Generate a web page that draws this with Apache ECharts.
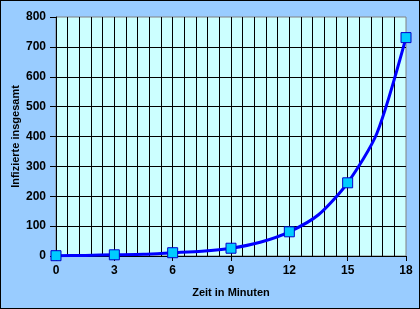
<!DOCTYPE html>
<html>
<head>
<meta charset="utf-8">
<script src="https://cdn.jsdelivr.net/npm/echarts@6/dist/echarts.min.js"></script>
<style>
html,body{margin:0;padding:0;background:#99CCFF;}
#c{width:420px;height:309px;box-sizing:border-box;border:1px solid #000;}
</style>
</head>
<body>
<div id="c"></div>
<script>
// Data
var minutes = [0, 1.5, 3, 4.5, 6, 7.5, 9, 10.5, 12, 13.5, 15, 16.5, 18];
var infected = [1, 2, 4, 6, 11, 16, 26, 46, 81, 138, 245, 410, 731];
var markerMinutes = [0, 3, 6, 9, 12, 15, 18];
var xTickLabels = ['0', '3', '6', '9', '12', '15', '18'];
var yTickLabels = ['0', '100', '200', '300', '400', '500', '600', '700', '800'];

var lineData = minutes.map(function (t, i) { return [t, infected[i]]; });
var markerData = lineData.filter(function (p) { return markerMinutes.indexOf(p[0]) >= 0; });

var font = 'Arial, "Liberation Sans", sans-serif';
var chart = echarts.init(document.getElementById('c'), null, {renderer: 'canvas'});
chart.setOption({
  backgroundColor: '#99CCFF',
  animation: false,
  grid: {left: 55, right: 13, top: 16, bottom: 52, containLabel: false, outerBoundsMode: 'none',
    show: true, backgroundColor: '#CCFFFF', borderColor: '#808080', borderWidth: 1},
  xAxis: [{
    type: 'value', min: 0, max: 18, interval: 0.6,
    axisLine: {show: false}, axisTick: {show: false}, axisLabel: {show: false},
    splitLine: {show: true, showMaxLine: false, showMinLine: false, lineStyle: {color: '#000', width: 1}}
  }, {
    type: 'value', min: 0, max: 18, interval: 3, position: 'bottom',
    name: 'Zeit in Minuten', nameLocation: 'middle', nameGap: 31, nameMoveOverlap: false,
    nameTextStyle: {fontFamily: font, fontWeight: 'bold', fontSize: 11, color: '#000'},
    axisLine: {show: true, lineStyle: {color: '#000', width: 1}},
    axisTick: {show: true, length: 5, lineStyle: {color: '#000'}},
    axisLabel: {margin: 9, fontFamily: font, fontWeight: 'bold', fontSize: 12, color: '#000',
      formatter: function (v) { var i = Math.round(v / 3); return xTickLabels[i] || ''; }},
    splitLine: {show: false}
  }],
  yAxis: {
    type: 'value', min: 0, max: 800, interval: 100,
    name: 'Infizierte insgesamt', nameLocation: 'middle', nameGap: 35, nameMoveOverlap: false,
    nameTextStyle: {fontFamily: font, fontWeight: 'bold', fontSize: 11, color: '#000'},
    axisLine: {show: true, lineStyle: {color: '#000', width: 1}},
    axisTick: {show: true, length: 6, lineStyle: {color: '#000'}},
    axisLabel: {margin: 10, fontFamily: font, fontWeight: 'bold', fontSize: 12, color: '#000',
      formatter: function (v) { return yTickLabels[Math.round(v / 100)] || ''; }},
    splitLine: {show: true, showMaxLine: false, lineStyle: {color: '#000', width: 1}}
  },
  series: [{
    type: 'line', xAxisIndex: 1, data: lineData, smooth: 0.25, showSymbol: false,
    lineStyle: {color: '#0000FF', width: 3}, z: 3
  }, {
    type: 'scatter', xAxisIndex: 1, data: markerData, symbol: 'rect', symbolSize: 10,
    itemStyle: {color: '#00CCFF', borderColor: '#0000CC', borderWidth: 1, opacity: 1}, z: 4
  }]
});
</script>
</body>
</html>
